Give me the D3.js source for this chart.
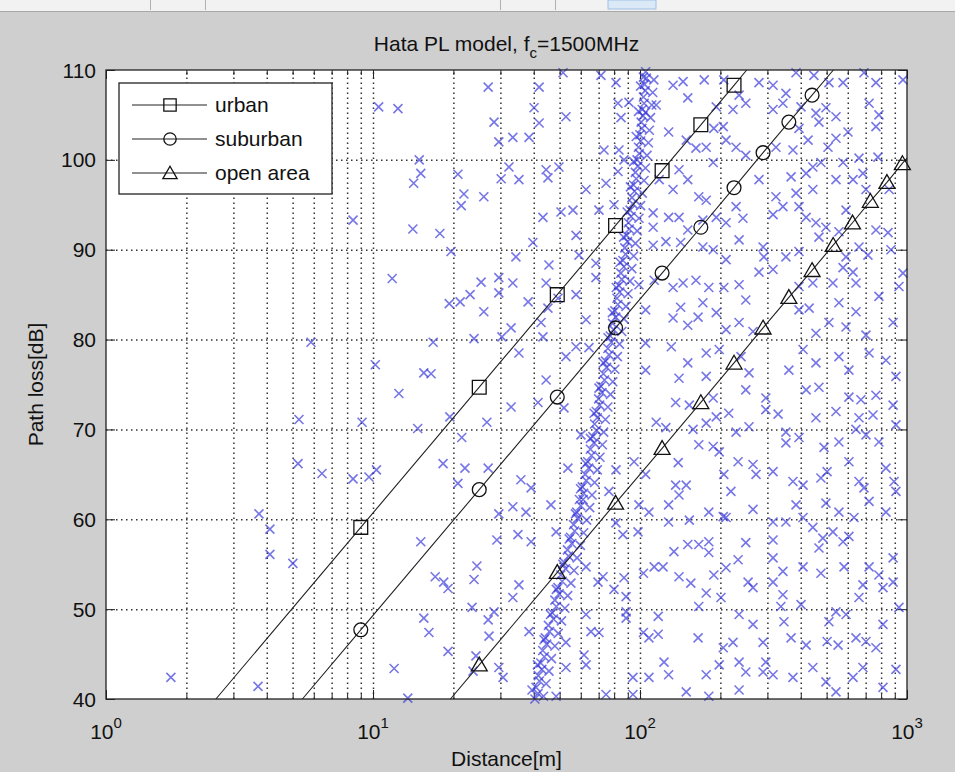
<!DOCTYPE html>
<html>
<head>
<meta charset="utf-8">
<script src="https://cdn.jsdelivr.net/npm/d3@7"></script>
<style>
  body { margin: 0; background: #cfcfcf; }
  svg text { font-family: "Liberation Sans", Arial, sans-serif; fill: #111; }
  .grid line { stroke: #333; stroke-width: 1.5; stroke-dasharray: 1.5 3.5; }
  .grid path { display: none; }
  .ticks path { display: none; }
  .ticks line { stroke: #222; }
</style>
</head>
<body>
<div id="chart"></div>
<script>
// Hata path loss model, fc = 1500 MHz
var xTicks = [1, 10, 100, 1000];
var xTickExp = ["0", "1", "2", "3"];
var yTicks = [40, 50, 60, 70, 80, 90, 100, 110];
var seriesNames = ["urban", "suburban", "open area"];

// marker points [distance m, path loss dB]
var urbanPts = [[9, 59.1], [25, 74.7], [49, 85.0], [81, 92.7], [121, 98.8], [169, 103.9], [225, 108.3]];
var suburbanPts = [[9, 47.7], [25, 63.3], [49, 73.6], [81, 81.3], [121, 87.4], [169, 92.5], [225, 96.9],
    [289, 100.8], [361, 104.2], [441, 107.2]];
var openPts = [[25, 43.8], [49, 54.1], [81, 61.8], [121, 67.9], [169, 73.0], [225, 77.4], [289, 81.3],
    [361, 84.7], [441, 87.7], [529, 90.5], [625, 93.0], [729, 95.4], [841, 97.5], [961, 99.6]];
// where the lines leave the axes
var urbanEnds = [[2.58, 40], [251, 110]];
var suburbanEnds = [[5.44, 40], [530, 110]];
var openEnds = [[19.5, 40], [1000, 100.2]];

// scattered measurements [distance m, path loss dB]
var scatterPts = [
  [27.0,108.1],[10.5,105.9],[12.4,105.7],[28.4,104.2],[29.6,102.0],[14.9,100.0],[15.1,98.5],[14.2,97.4],
  [20.8,98.4],[21.9,96.2],[26.0,95.9],[21.4,94.9],[30.2,97.9],[8.42,93.3],[14.1,92.3],[17.8,91.8],
  [19.6,89.8],[11.8,86.8],[25.4,86.4],[29.6,86.9],[29.6,85.2],[19.3,84.0],[21.2,84.2],[23.1,85.0],
  [26.0,83.1],[5.86,79.7],[16.8,79.7],[23.9,80.1],[30.4,80.3],[10.2,77.2],[15.5,76.3],[16.5,76.2],
  [12.5,74.0],[5.28,71.1],[9.10,70.8],[14.7,70.1],[19.4,71.4],[26.7,70.8],[21.5,69.1],[5.24,66.2],
  [6.44,65.1],[8.42,64.5],[9.66,64.7],[10.3,65.5],[18.3,66.2],[22.1,65.7],[27.0,65.7],[20.8,64.0],
  [3.74,60.6],[4.11,58.9],[4.11,56.1],[5.01,55.1],[29.6,60.6],[15.1,57.5],[29.1,57.7],[24.5,54.8],
  [17.1,53.6],[18.4,53.0],[19.1,52.3],[23.9,53.3],[23.5,50.2],[28.4,49.7],[27.0,48.8],[27.2,47.0],
  [15.5,49.0],[16.2,47.4],[19.1,45.3],[24.3,44.8],[23.7,43.1],[29.6,43.5],[12.0,43.4],[1.75,42.4],
  [3.71,41.4],[13.5,40.1],[30.7,42.4],
  [41.9,108.1],[51.5,109.7],[71.4,109.4],[81.3,108.6],[103,109.2],[133,108.3],[145,108.7],[174,108.9],
  [151,106.9],[206,108.9],[235,107.2],[279,108.6],[315,108.3],[384,109.7],[352,107.4],[448,109.4],
  [510,108.6],[576,108.6],[690,109.7],[765,108.6],[966,108.9],
  [40.1,105.8],[52.8,104.8],[41.9,104.1],[33.4,102.5],[38.4,102.5],[82.7,106.3],[90.9,106.4],[84.9,104.7],
  [115,106.1],[105,105.3],[193,105.9],[223,105.6],[249,106.3],[205,103.7],[315,105.6],[343,106.3],
  [401,105.9],[456,105.2],[497,105.8],[542,104.8],[468,104.2],[601,103.1],[721,106.3],[785,105.0],
  [765,103.7],[394,103.5],[128,103.1],[189,103.5],
  [73.3,101.1],[83.4,101.1],[87.1,100.0],[149,102.2],[162,101.3],[177,101.4],[210,102.2],[229,101.4],
  [188,99.7],[249,100.5],[323,101.4],[374,101.1],[426,102.2],[506,101.4],[542,102.4],[778,100.3],
  [576,99.7],[661,100.2],[32.3,99.2],[44.5,98.9],[49.7,99.2],
  [35.2,97.8],[45.2,98.0],[62.8,96.7],[74.6,97.4],[82.7,98.7],[118,97.8],[140,98.9],[151,97.8],
  [166,95.9],[177,95.5],[133,96.7],[368,98.1],[419,98.5],[444,99.2],[476,99.7],[542,97.8],
  [384,96.3],[444,96.7],[628,97.8],[684,98.5],[702,96.7],[857,96.7],[323,95.9],[279,97.8],
  [43.3,93.6],[50.6,94.2],[56.1,94.4],[57.6,91.6],[70.2,94.4],[79.9,95.0],[112,94.1],[128,93.6],
  [140,93.6],[112,92.5],[151,92.2],[172,93.3],[193,93.6],[210,93.0],[229,94.8],[243,93.5],
  [315,93.9],[343,94.8],[394,94.8],[419,93.6],[456,93.0],[497,92.5],[556,92.0],[765,92.2],
  [849,91.9],[591,94.4],
  [34.3,89.2],[39.7,90.8],[45.6,88.3],[59.1,89.4],[68.4,88.5],[112,90.5],[125,90.9],[142,90.8],
  [172,90.3],[188,90.0],[210,88.9],[235,91.1],[289,90.3],[291,89.2],[352,89.2],[394,89.8],
  [468,91.4],[591,89.2],[661,90.3],[714,89.4],[871,90.0],[279,87.5],[315,87.8],[576,88.0],[628,87.5],
  [33.4,86.3],[38.1,84.2],[49.3,84.6],[57.6,85.0],[44.5,86.3],[68.4,86.9],[99.1,86.1],[113,86.6],
  [133,85.8],[145,86.3],[162,86.6],[181,85.8],[206,85.8],[235,86.1],[249,84.4],[172,84.1],
  [394,85.9],[444,86.3],[528,86.3],[644,86.3],[556,84.1],[785,84.8],[933,85.9],[966,87.4],
  [32.9,81.3],[42.6,81.9],[45.2,83.5],[62.8,82.2],[105,83.3],[133,82.4],[142,83.6],[151,81.6],
  [165,82.5],[193,83.0],[210,81.1],[235,81.9],[265,80.9],[394,83.3],[430,83.5],[456,80.7],
  [510,81.9],[644,83.1],[702,80.5],[887,81.9],[591,81.4],
  [35.2,78.5],[43.3,80.3],[44.5,75.5],[57.6,79.2],[64.4,79.1],[52.8,78.1],[105,79.6],[131,79.2],
  [151,77.4],[177,78.5],[198,78.9],[239,78.1],[256,76.3],[361,76.6],[408,78.9],[456,77.4],
  [556,78.1],[606,76.6],[721,78.5],[834,77.7],[909,75.9],[105,76.6],[140,75.7],[177,75.9],
  [32.9,72.5],[41.5,73.0],[51.9,72.4],[136,73.0],[153,72.7],[193,71.4],[215,71.8],[249,74.4],
  [296,72.2],[329,71.7],[296,73.5],[419,74.4],[468,74.7],[606,73.6],[672,73.3],[765,73.8],
  [887,72.7],[456,71.3],[542,72.0],[661,71.3],[746,71.6],[188,73.5],
  [60.1,69.4],[115,70.8],[125,70.2],[158,70.0],[177,70.7],[229,69.7],[256,70.3],[352,69.7],
  [394,69.1],[352,68.5],[489,68.0],[556,68.6],[644,70.0],[702,69.4],[785,68.6],[909,70.5],
  [166,68.3],[188,68.1],
  [35.8,64.4],[39.1,63.5],[53.7,65.7],[81.3,65.5],[95.0,66.4],[105,65.0],[139,66.3],[198,67.5],
  [233,66.4],[265,66.1],[206,65.0],[272,65.0],[315,65.3],[374,64.2],[408,63.8],[476,64.6],
  [502,65.3],[606,66.4],[661,64.2],[690,63.5],[834,65.7],[894,64.2],
  [33.4,61.4],[37.4,60.8],[46.4,61.6],[61.2,62.2],[76.5,63.1],[99.1,61.6],[108,60.8],[128,61.6],
  [136,63.8],[149,63.8],[140,62.7],[181,60.8],[205,60.3],[219,63.1],[265,61.1],[384,61.6],
  [497,61.8],[556,60.8],[721,62.0],[909,63.1],[834,60.8],
  [34.9,58.3],[39.1,57.5],[48.5,58.6],[81.3,59.6],[86.3,58.3],[98.3,58.6],[128,59.7],[153,59.9],
  [181,57.5],[210,60.2],[249,57.4],[315,59.7],[315,57.7],[352,59.7],[408,60.2],[444,59.1],
  [484,57.9],[528,58.6],[633,60.2],[576,57.5],[468,56.8],[606,58.1],
  [35.2,52.7],[62.8,54.7],[72.7,53.6],[87.1,53.5],[103,54.0],[113,54.7],[122,54.7],[134,56.4],
  [151,57.2],[166,57.2],[140,53.6],[155,52.9],[181,56.3],[189,53.8],[210,54.6],[233,55.5],
  [254,53.0],[315,55.7],[343,54.2],[315,53.0],[408,54.7],[476,54.0],[581,54.7],[721,54.7],
  [785,53.8],[887,55.7],[684,52.7],[887,53.0],
  [33.4,51.3],[62.8,49.4],[69.6,53.0],[79.9,52.2],[88.7,51.4],[88.7,49.7],[117,49.2],[166,50.3],
  [177,51.8],[201,51.3],[235,49.4],[265,52.4],[343,51.6],[337,50.3],[401,50.5],[542,49.7],
  [591,49.4],[661,51.3],[813,52.4],[933,50.2],
  [38.4,47.5],[52.8,46.3],[65.5,47.5],[70.2,47.4],[88.7,49.0],[103,47.4],[108,46.8],[117,47.2],
  [165,46.8],[205,45.7],[223,46.3],[265,48.3],[289,46.3],[346,48.6],[368,46.8],[419,46.0],
  [510,48.6],[502,46.4],[552,46.0],[644,46.8],[702,46.4],[813,48.3],[765,45.7],
  [52.8,43.5],[61.7,44.9],[62.8,43.8],[94.1,42.4],[108,42.4],[123,44.1],[128,42.7],[177,42.7],
  [198,43.8],[235,44.1],[249,43.0],[289,43.0],[296,44.1],[315,42.7],[374,42.4],[444,43.5],
  [497,41.9],[542,40.8],[628,42.4],[684,43.5],[813,41.3],[909,43.3],[74.6,40.5],[94.1,40.5],
  [149,40.8],[181,40.3],[48.5,40.3],[235,41.0]
];

// the steep chain of measurements near 40-107 m
var bandPts = [
  [40.4,40.0],[41.5,40.6],[40.8,41.3],[42.0,42.0],[41.6,42.6],[42.9,43.3],[42.5,44.0],[43.8,44.7],
  [43.2,45.4],[44.7,46.1],[44.2,46.8],[45.8,47.5],[45.4,48.2],[47.4,48.9],[46.9,49.6],[48.6,50.3],
  [48.0,51.0],[49.8,51.7],[49.3,52.4],[51.1,53.1],[50.5,53.8],[52.6,54.5],[52.0,55.2],[54.0,55.9],
  [53.5,56.6],[55.5,57.3],[54.9,58.0],[56.9,58.7],[56.4,59.4],[58.4,60.1],[57.9,60.8],[60.0,61.5],
  [59.3,62.2],[61.5,62.9],[60.8,63.6],[62.9,64.3],[62.3,65.0],[64.3,65.7],[63.7,66.4],[65.8,67.1],
  [65.2,67.8],[67.3,68.5],[66.6,69.2],[68.7,69.9],[67.6,70.6],[69.2,71.3],[68.6,72.0],[70.6,72.7],
  [70.0,73.4],[72.0,74.1],[71.4,74.8],[73.6,75.5],[72.9,76.2],[75.0,76.9],[74.3,77.6],[76.6,78.3],
  [75.8,79.0],[78.1,79.7],[77.4,80.4],[79.6,81.1],[78.9,81.8],[81.1,82.5],[80.5,83.2],[82.6,83.9],
  [82.0,84.6],[84.0,85.3],[83.4,86.0],[85.5,86.7],[84.8,87.4],[87.0,88.1],[86.3,88.8],[88.3,89.5],
  [87.7,90.2],[89.8,90.9],[89.1,91.6],[91.1,92.3],[90.5,93.0],[92.6,93.7],[91.8,94.4],[94.0,95.1],
  [93.3,95.8],[95.4,96.5],[94.6,97.2],[96.8,97.9],[96.1,98.6],[98.2,99.3],[97.5,100.0],[99.4,100.7],
  [98.7,101.4],[100.6,102.1],[99.9,102.8],[101.6,103.5],[101.0,104.2],[102.6,104.9],[102.0,105.6],
  [103.6,106.3],[103.0,107.0],[104.6,107.7],[104.0,108.4],[105.6,109.1],[105.0,109.8],
  // right edge of the chain
  [43.5,40.3],[44.5,41.7],[45.6,43.1],[46.6,44.5],[48.0,45.9],[49.4,47.3],[50.8,48.7],[52.3,50.1],
  [53.6,51.5],[55.1,52.9],[56.6,54.3],[58.1,55.7],[59.8,57.1],[61.5,58.5],[63.1,59.9],[64.8,61.3],
  [66.1,62.7],[67.6,64.1],[69.2,65.5],[70.8,66.9],[72.3,68.3],[73.1,69.7],[74.2,71.1],[75.8,72.5],
  [77.5,73.9],[79.1,75.3],[80.5,76.7],[82.3,78.1],[83.8,79.5],[85.5,80.9],[87.1,82.3],[88.6,83.7],
  [90.2,85.1],[91.7,86.5],[93.2,87.9],[94.7,89.3],[96.1,90.7],[97.6,92.1],[99.1,93.5],[100.5,94.9],
  [102.0,96.3],[103.5,97.7],[104.8,99.1],[106.2,100.5],[107.5,101.9],[108.4,103.3],[109.5,104.7],
  [110.7,106.1],[111.6,107.5],[112.7,108.9],
  // left edge of the chain
  [39.4,41.0],[41.3,43.8],[43.7,46.6],[46.2,49.4],[48.6,52.2],[51.4,55.0],[54.3,57.8],[57.3,60.6],
  [59.9,63.4],[62.7,66.2],[65.2,69.0],[67.3,71.8],[70.2,74.6],[73.0,77.4],[75.9,80.2],[78.8,83.0],
  [81.5,85.8],[84.2,88.6],[86.8,91.4],[89.5,94.2],[92.1,97.0],[94.6,99.8],[96.8,102.6],[98.7,105.4],
  [100.5,108.2]
];

var svgWidth = 955;
var svgHeight = 772;

// plot box in page pixels
var plot = { left: 106, right: 907, top: 70, bottom: 699 };

var svg = d3.select("#chart")
    .append("svg")
    .attr("width", svgWidth)
    .attr("height", svgHeight)
    .style("display", "block");

// figure background + window toolbar strip
svg.append("rect").attr("width", svgWidth).attr("height", svgHeight).attr("fill", "#cfcfcf");
svg.append("rect").attr("width", svgWidth).attr("height", 11).attr("fill", "#f2f2f2");
svg.append("line").attr("x1", 0).attr("x2", svgWidth).attr("y1", 11.5).attr("y2", 11.5).attr("stroke", "#a8a8a8");
[150, 205, 500, 555].forEach(function(sx) {
    svg.append("line").attr("x1", sx + 0.5).attr("x2", sx + 0.5).attr("y1", 0).attr("y2", 10).attr("stroke", "#b0b0b0");
});
svg.append("rect").attr("x", 608).attr("y", 0).attr("width", 48).attr("height", 9)
    .attr("fill", "#dbe8f6").attr("stroke", "#9fc0e6");

var xScale = d3.scaleLog().domain([1, 1000]).range([plot.left, plot.right]);
var yScale = d3.scaleLinear().domain([40, 110]).range([plot.bottom, plot.top]);

var plotW = plot.right - plot.left;
var plotH = plot.bottom - plot.top;

// minor log ticks 2..9 in every decade
var minorTicks = [];
xTicks.slice(0, 3).forEach(function(dec) {
    for (var k = 2; k <= 9; k++) minorTicks.push(dec * k);
});

svg.append("rect")
    .attr("x", plot.left).attr("y", plot.top)
    .attr("width", plotW).attr("height", plotH)
    .attr("fill", "#ffffff");

// dotted grid
svg.append("g")
    .attr("class", "grid")
    .attr("transform", `translate(0, ${plot.bottom})`)
    .call(d3.axisBottom(xScale).tickValues(minorTicks.concat([10, 100])).tickSize(-plotH).tickFormat(""));

svg.append("g")
    .attr("class", "grid")
    .attr("transform", `translate(${plot.left}, 0)`)
    .call(d3.axisLeft(yScale).tickValues(yTicks.slice(1, -1)).tickSize(-plotW).tickFormat(""));

// ticks, inside, on all four sides
function addTicks(axis, tx, ty) {
    svg.append("g").attr("class", "ticks").attr("transform", `translate(${tx}, ${ty})`).call(axis);
}
addTicks(d3.axisBottom(xScale).tickValues(xTicks).tickSize(-9).tickFormat(""), 0, plot.bottom);
addTicks(d3.axisBottom(xScale).tickValues(minorTicks).tickSize(-5).tickFormat(""), 0, plot.bottom);
addTicks(d3.axisTop(xScale).tickValues(xTicks).tickSize(-9).tickFormat(""), 0, plot.top);
addTicks(d3.axisTop(xScale).tickValues(minorTicks).tickSize(-5).tickFormat(""), 0, plot.top);
addTicks(d3.axisLeft(yScale).tickValues(yTicks).tickSize(-9).tickFormat(""), plot.left, 0);
addTicks(d3.axisRight(yScale).tickValues(yTicks).tickSize(-9).tickFormat(""), plot.right, 0);

// scatter crosses
var crossPath = "M-4.5,-4.5L4.5,4.5M-4.5,4.5L4.5,-4.5";
svg.append("g")
    .selectAll("path")
    .data(scatterPts.concat(bandPts))
    .enter()
    .append("path")
    .attr("d", crossPath)
    .attr("transform", d => `translate(${xScale(d[0])}, ${yScale(d[1])})`)
    .attr("fill", "none")
    .attr("stroke", "#3c3cdc")
    .attr("stroke-opacity", 0.7)
    .attr("stroke-width", 1.6);

// model lines with markers
var lineGen = d3.line().x(d => xScale(d[0])).y(d => yScale(d[1]));
var symbolTypes = [d3.symbolSquare, d3.symbolCircle, d3.symbolTriangle];
var symbolSizes = [190, 150, 110];
var series = [
    { pts: urbanPts, ends: urbanEnds },
    { pts: suburbanPts, ends: suburbanEnds },
    { pts: openPts, ends: openEnds }
];

series.forEach(function(s, i) {
    var linePts = [s.ends[0]].concat(s.pts, [s.ends[1]]);
    svg.append("path")
        .datum(linePts)
        .attr("d", lineGen)
        .attr("fill", "none")
        .attr("stroke", "#222")
        .attr("stroke-width", 1.1);

    svg.append("g")
        .selectAll("path")
        .data(s.pts)
        .enter()
        .append("path")
        .attr("d", d3.symbol().type(symbolTypes[i]).size(symbolSizes[i]))
        .attr("transform", d => `translate(${xScale(d[0])}, ${yScale(d[1]) + (i === 2 ? 1.5 : 0)})`)
        .attr("fill", "none")
        .attr("stroke", "#111")
        .attr("stroke-width", 1.3);
});

// box
svg.append("rect")
    .attr("x", plot.left).attr("y", plot.top)
    .attr("width", plotW).attr("height", plotH)
    .attr("fill", "none").attr("stroke", "#222").attr("stroke-width", 1.3);

// tick labels
var xLabels = svg.append("g");
xTicks.forEach(function(t, i) {
    var lbl = xLabels.append("text")
        .attr("x", xScale(t))
        .attr("y", 739)
        .attr("text-anchor", "middle")
        .style("font-size", "21px");
    lbl.append("tspan").text("10");
    lbl.append("tspan").attr("dy", -11).style("font-size", "15px").text(xTickExp[i]);
});

svg.append("g")
    .selectAll("text")
    .data(yTicks)
    .enter()
    .append("text")
    .attr("x", 96)
    .attr("y", d => yScale(d) + 7.5)
    .attr("text-anchor", "end")
    .style("font-size", "21px")
    .text(d => d);

// title and axis labels
var title = svg.append("text")
    .attr("x", (plot.left + plot.right) / 2)
    .attr("y", 51)
    .attr("text-anchor", "middle")
    .style("font-size", "21px");
title.append("tspan").text("Hata PL model, f");
title.append("tspan").attr("dy", 7).style("font-size", "15px").text("c");
title.append("tspan").attr("dy", -7).text("=1500MHz");

svg.append("text")
    .attr("x", (plot.left + plot.right) / 2)
    .attr("y", 766)
    .attr("text-anchor", "middle")
    .style("font-size", "21px")
    .text("Distance[m]");

svg.append("text")
    .attr("transform", `translate(43, ${(plot.top + plot.bottom) / 2}) rotate(-90)`)
    .attr("text-anchor", "middle")
    .style("font-size", "21px")
    .text("Path loss[dB]");

// legend
var legend = svg.append("g").attr("transform", "translate(119, 83)");
legend.append("rect")
    .attr("width", 213).attr("height", 111)
    .attr("fill", "#ffffff").attr("stroke", "#222").attr("stroke-width", 1.3);

seriesNames.forEach(function(name, i) {
    var rowY = 22 + i * 34;
    legend.append("line")
        .attr("x1", 13).attr("x2", 88)
        .attr("y1", rowY).attr("y2", rowY)
        .attr("stroke", "#222").attr("stroke-width", 1.1);
    legend.append("path")
        .attr("d", d3.symbol().type(symbolTypes[i]).size(symbolSizes[i] * 0.8))
        .attr("transform", `translate(51, ${rowY + (i === 2 ? 1.5 : 0)})`)
        .attr("fill", "none").attr("stroke", "#111").attr("stroke-width", 1.3);
    legend.append("text")
        .attr("x", 96)
        .attr("y", rowY + 7)
        .style("font-size", "21px")
        .text(name);
});
</script>
</body>
</html>
